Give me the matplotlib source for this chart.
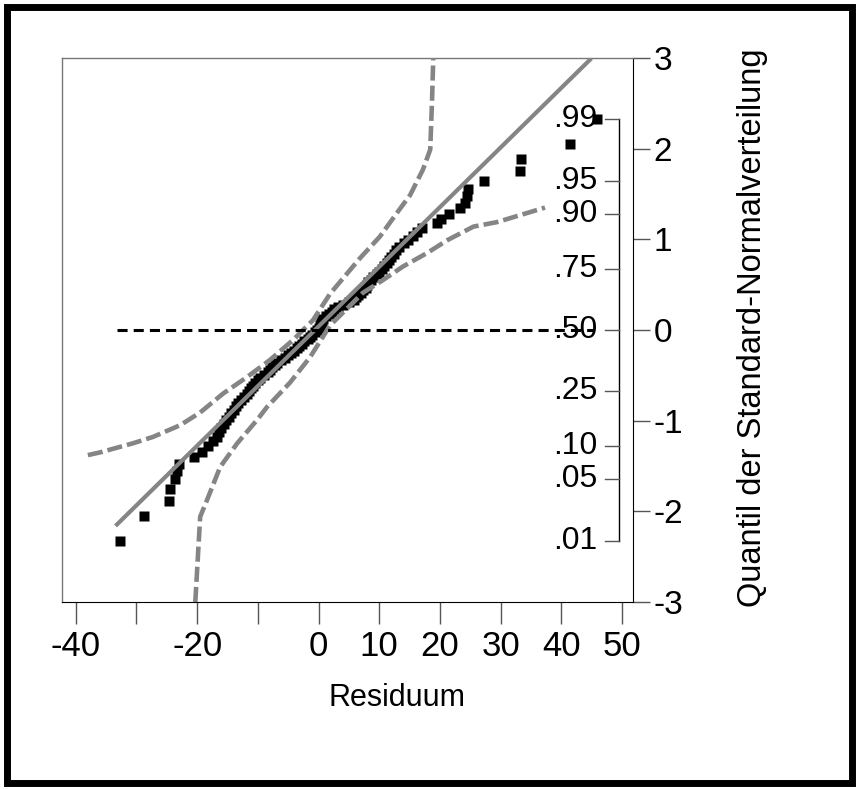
import matplotlib
matplotlib.use('Agg')
import matplotlib.pyplot as plt
import matplotlib.transforms as mtransforms
from matplotlib.patches import Rectangle
from statistics import NormalDist
import numpy as np

plt.rcParams['font.family'] = ['Liberation Sans', 'DejaVu Sans']

# sorted residuals (rank 1 = smallest)
residuals = [-32.7, -28.7, -24.6, -24.5, -23.6, -23.3, -23.0, -20.5, -19.2, -18.2,
             -17.4, -16.8, -16.4, -16.0, -15.6, -15.2, -14.8, -14.4, -14.0, -13.6,
             -13.2, -12.8, -12.3, -11.8, -11.5, -11.2, -10.8, -10.4, -10.0, -9.6,
             -9.0, -8.4, -8.0, -7.6, -7.2, -6.8, -6.2, -5.6, -5.0, -4.6,
             -4.0, -3.6, -3.2, -2.8, -2.4, -1.8, -1.4, -1.0, -0.6, -0.3,
             0.0, 0.2, 0.4, 0.6, 0.8, 1.2, 1.8, 2.2, 2.6, 3.2,
             4.0, 5.0, 5.8, 6.2, 6.5, 7.0, 7.4, 7.8, 8.0, 8.2,
             8.6, 9.0, 9.6, 10.0, 10.4, 10.8, 11.2, 11.6, 12.0, 12.4,
             12.8, 13.3, 14.0, 14.8, 15.6, 16.2, 17.0, 19.5, 20.2, 21.5,
             23.3, 24.1, 24.5, 24.7, 27.3, 33.2, 33.3, 41.4, 45.9]

# fitted normal line
fit_mean = -0.6
fit_sd = 15.2
fit_range = [-33.2, 44.7]
median_range = [-33.2, 45.2]

# confidence bands
upper_x = [-38.0, -36.0, -30.6, -27.3, -22.8, -19.5, -15.7, -11.8, -8.0, -4.2,
           -0.9, 1.9, 6.8, 10.1, 12.9, 15.1, 17.2, 18.4, 18.7, 18.9]
upper_q = [-1.38, -1.35, -1.25, -1.18, -1.05, -0.91, -0.70, -0.52, -0.33, -0.11,
           0.11, 0.40, 0.79, 1.03, 1.29, 1.49, 1.77, 1.99, 2.54, 3.0]
lower_x = [-20.3, -19.5, -18.4, -16.2, -13.4, -10.1, -8.5, -4.7, -1.4, 1.9,
           7.3, 10.6, 13.9, 17.9, 21.2, 25.5, 29.4, 37.3]
lower_q = [-3.0, -2.06, -1.88, -1.51, -1.25, -0.99, -0.85, -0.58, -0.30, 0.05,
           0.41, 0.55, 0.70, 0.85, 0.99, 1.14, 1.19, 1.35]

x_ticks = [-40, -30, -20, -10, 0, 10, 20, 30, 40, 50]
x_labels = ['-40', '', '-20', '', '0', '10', '20', '30', '40', '50']
q_ticks = [-3, -2, -1, 0, 1, 2, 3]
q_labels = ['-3', '-2', '-1', '0', '1', '2', '3']
prob_levels = [0.01, 0.05, 0.10, 0.25, 0.50, 0.75, 0.90, 0.95, 0.99]
prob_labels = ['.01', '.05', '.10', '.25', '.50', '.75', '.90', '.95', '.99']

nd = NormalDist()
n = len(residuals)
quantiles = [nd.inv_cdf(i / (n + 1)) for i in range(1, n + 1)]

fig = plt.figure(figsize=(8.59, 7.89), dpi=100)
ax = fig.add_axes([62/859, 1-602/789, 571/859, 544/789])

gray = '#858585'
ax.plot(upper_x, upper_q, color=gray, lw=3.3, dashes=(3.3, 1.1), zorder=3)
ax.plot(lower_x, lower_q, color=gray, lw=3.3, dashes=(3.3, 1.1), zorder=3)
ax.plot(residuals, quantiles, 's', color='black', ms=7, mec='none', zorder=2)
fx = np.array(fit_range)
ax.plot(fx, (fx - fit_mean) / fit_sd, color=gray, lw=3, zorder=4)
ax.plot(median_range, [0, 0], color='black', lw=2.2, dashes=(3.3, 2.0), zorder=4)

ax.set_xlim(-42.26, 51.8)
ax.set_ylim(-3, 3)

# quantile axis on the right
ax.yaxis.tick_right()
ax.set_yticks(q_ticks)
ax.set_yticklabels(q_labels)
ax.tick_params(axis='y', direction='out', length=12, width=1, colors='#555555', pad=3, labelsize=24, labelcolor='black')
ax.set_xticks(x_ticks)
ax.set_xticklabels(x_labels)
ax.tick_params(axis='x', direction='out', length=16, width=1, colors='#555555', pad=4, labelsize=25, labelcolor='black')

for s in ['top', 'left']:
    ax.spines[s].set_color('#777777')
    ax.spines[s].set_linewidth(1)
ax.spines['bottom'].set_color('black')
ax.spines['right'].set_color('black')

# probability axis inside the frame
tr = mtransforms.blended_transform_factory(ax.transAxes, ax.transData)
pq = [nd.inv_cdf(p) for p in prob_levels]
ax.plot([0.9755, 0.9755], [pq[0], pq[-1]], color='black', lw=1, transform=tr, zorder=5)
for q, lab in zip(pq, prob_labels):
    ax.plot([0.951, 0.9755], [q, q], color='#555555', lw=1, transform=tr, zorder=5)
    ax.text(0.938, q, lab, transform=tr, ha='right', va='center', fontsize=23, zorder=1)

fig.text(397/859, 1-698/789, 'Residuum', ha='center', va='center', fontsize=22)
fig.text(752/859, 1-328/789, 'Quantil der Standard-Normalverteilung', rotation=90,
         ha='center', va='center', fontsize=23.5)

fig.patches.append(Rectangle((7/859, 6/789), 845/859, 776/789, transform=fig.transFigure,
                             fill=False, ec='black', lw=5))

fig.savefig('out.png', dpi=100)
